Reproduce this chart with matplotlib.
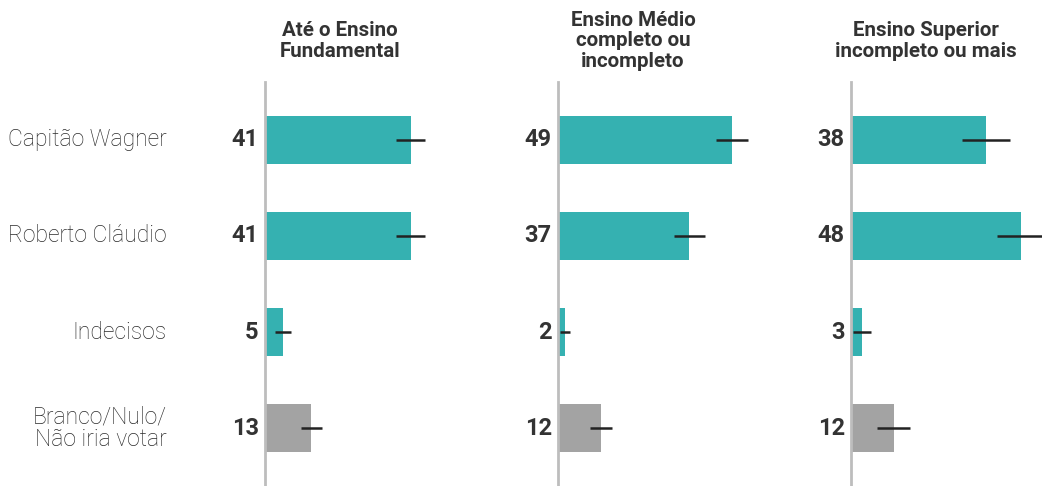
import numpy as np
import matplotlib
matplotlib.use("Agg")
import matplotlib.pyplot as plt

plt.rcParams['font.family'] = ['Roboto', 'DejaVu Sans']

categories = ["Capitão Wagner", "Roberto Cláudio", "Indecisos", "Branco/Nulo/\nNão iria votar"]
groups = ["Até o Ensino\nFundamental", "Ensino Médio\ncompleto ou\nincompleto", "Ensino Superior\nincompleto ou mais"]

fundamental = [41, 41, 5, 13]
medio = [49, 37, 2, 12]
superior = [38, 48, 3, 12]

fundamental_err = [4.1, 4.2, 2.2, 3.0]
medio_err = [4.4, 4.3, 1.5, 3.1]
superior_err = [6.7, 7.0, 2.5, 4.6]

values = [fundamental, medio, superior]
errors = [fundamental_err, medio_err, superior_err]

teal = '#35b1b1'
grey = '#a3a3a3'
colors = [teal, teal, teal, grey]
dark = '#333333'

W, H = 1042, 486
fig = plt.figure(figsize=(W / 100, H / 100), dpi=100)

px_per_unit = 3.55
xmax = 50
ax_w = px_per_unit * xmax
ax_top = 82
y = np.arange(len(categories))

for i in range(len(groups)):
    left = 265 + 293 * i
    ax = fig.add_axes([left / W, 0, ax_w / W, (H - ax_top) / H])
    ax.barh(y, values[i], height=0.5, color=colors, zorder=2)
    ax.errorbar(values[i], y, xerr=errors[i], fmt='none', ecolor='#222222',
                elinewidth=1.8, capsize=0, zorder=3, clip_on=False)
    ax.set_xlim(0, xmax)
    ax.set_ylim(3.6, -0.6)
    for s in ['top', 'right', 'bottom']:
        ax.spines[s].set_visible(False)
    ax.spines['left'].set_color('#bdbdbd')
    ax.spines['left'].set_linewidth(2)
    ax.set_xticks([])
    ax.set_yticks([])
    for j, v in enumerate(values[i]):
        ax.annotate(str(v), xy=(0, y[j]), xytext=(-4.5, 0), textcoords='offset points',
                    ha='right', va='center', fontsize=17, fontweight='bold', color=dark)
    ax.text(75 / ax_w, 1 + (ax_top - 41) / (H - ax_top), groups[i], transform=ax.transAxes,
            ha='center', va='center', multialignment='center', fontsize=14.8,
            fontweight='bold', color=dark, linespacing=1.1)
    if i == 0:
        for j, c in enumerate(categories):
            ax.annotate(c, xy=(0, y[j]), xytext=(-71, 0), textcoords='offset points',
                        ha='right', va='center', fontsize=16.5, fontweight='light',
                        color='#2a2a2a', linespacing=1.0)

fig.savefig('out.png', dpi=100)
